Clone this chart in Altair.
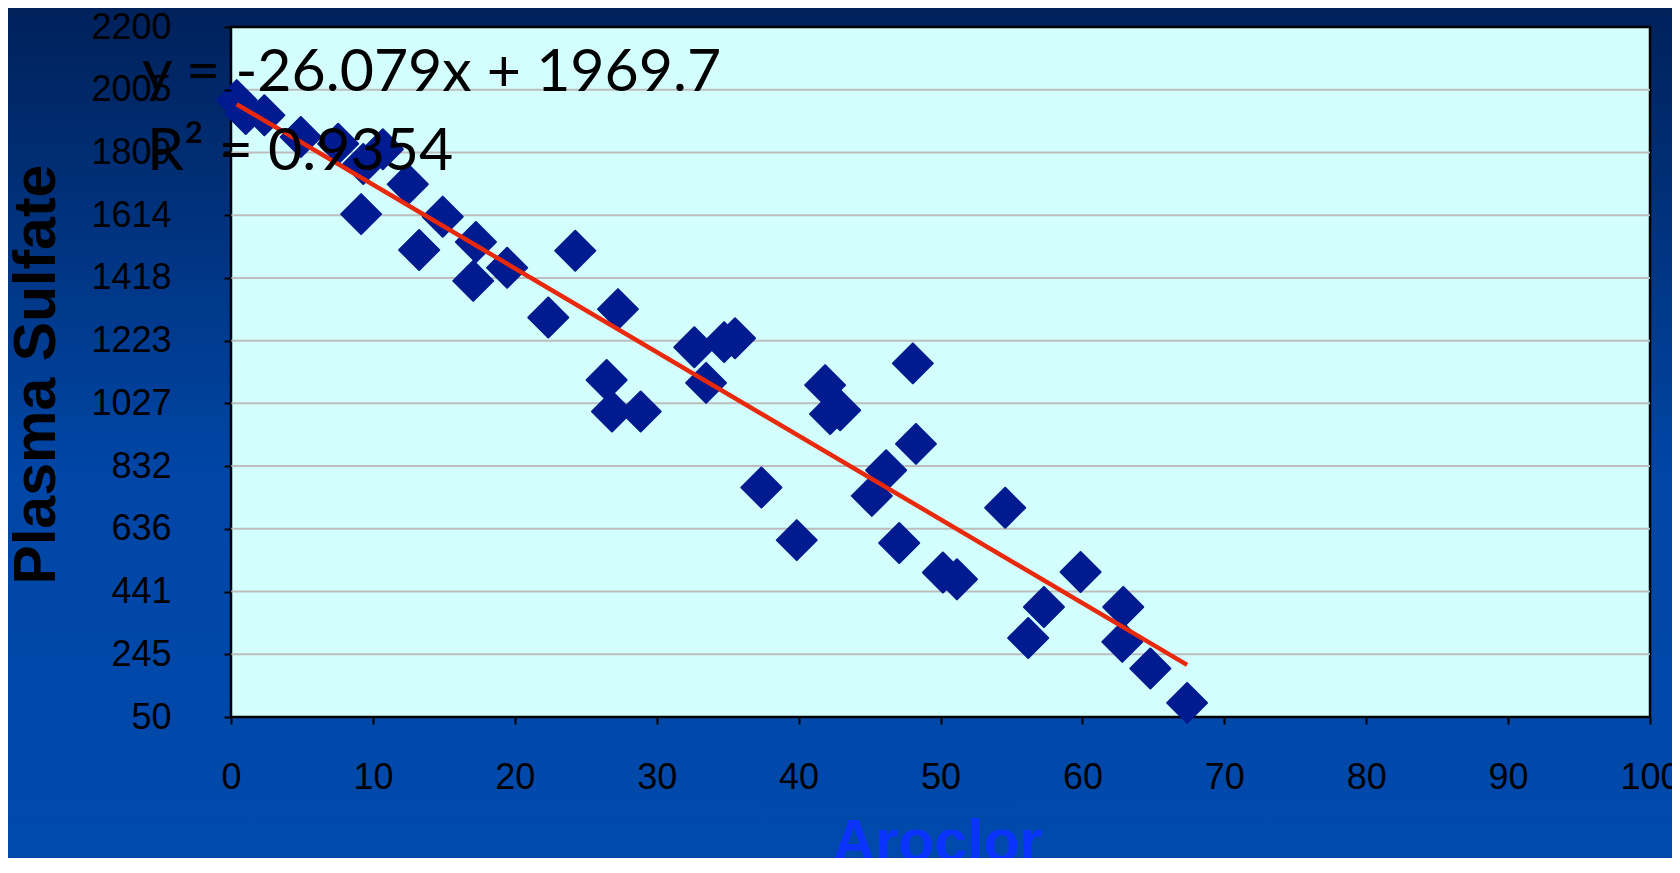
import altair as alt
import pandas as pd

# ---------------- data ----------------
aroclor = [0.40, 1.04, 2.35, 4.92, 7.55, 10.7, 9.32, 12.46, 9.17, 14.92,
           13.26, 17.26, 19.46, 17.07, 24.26, 22.36, 27.27, 26.47, 26.85, 28.87,
           32.65, 34.75, 35.52, 33.48, 37.38, 39.87, 41.87, 42.22, 42.93, 45.16,
           46.17, 47.09, 48.05, 48.27, 50.17, 51.16, 54.56, 56.18, 57.29, 59.87,
           62.88, 62.81, 64.79, 67.38]
sulfate = [1972, 1929, 1925, 1857, 1836, 1819, 1773, 1710, 1617, 1609,
           1505, 1530, 1450, 1409, 1503, 1295, 1321, 1100, 1002, 1002,
           1202, 1218, 1230, 1091, 765, 601, 1084, 994, 1006, 739,
           819, 592, 1152, 901, 500, 479, 702, 296, 393, 502,
           393, 284, 201, 94]
y_ticks = [50, 245.45, 440.91, 636.36, 831.82, 1027.27, 1222.73, 1418.18,
           1613.64, 1809.09, 2004.55, 2200]
x_ticks = [0, 10, 20, 30, 40, 50, 60, 70, 80, 90, 100]
slope = -26.079
intercept = 1969.7
eq_label = "y = -26.079x + 1969.7"
r2_label = "R\u00b2 = 0.9354"
x_title = "Aroclor"
y_title = "Plasma Sulfate"

# ---------------- layout ----------------
W, H = 1419, 690
PAD = {"left": 223, "top": 19, "right": 22, "bottom": 141}

pts = pd.DataFrame({"Aroclor": aroclor, "Sulfate": sulfate})
grid = pd.DataFrame({"Sulfate": y_ticks[1:-1]})
trend = pd.DataFrame({"Aroclor": [min(aroclor), max(aroclor)]})
one = pd.DataFrame({"k": [0]})

xs = alt.Scale(domain=[0, 100], nice=False, zero=False)
ys = alt.Scale(domain=[50, 2200], nice=False, zero=False)

xaxis = alt.Axis(values=x_ticks, grid=False, domain=False, ticks=True,
                 tickColor="black", tickWidth=2, tickSize=7,
                 labelFont="Liberation Sans", labelFontSize=36, labelColor="black",
                 labelPadding=36, labelFlush=False, labelOverlap=False,
                 title=x_title, titleFont="Liberation Sans", titleFontWeight="bold",
                 titleFontSize=59, titleColor="#0A33FF", titleX=706, titleY=143,
                 titleAlign="center", titleBaseline="alphabetic", zindex=1)
yaxis = alt.Axis(values=y_ticks, format=".0f", grid=False, domain=False, ticks=True,
                 tickColor="black", tickWidth=2, tickSize=7,
                 labelFont="Liberation Sans", labelFontSize=36, labelColor="black",
                 labelPadding=53, labelFlush=False, labelOverlap=False,
                 title=y_title, titleFont="Liberation Sans", titleFontWeight="bold",
                 titleFontSize=59, titleColor="black", titleX=-177, titleY=347,
                 titleAngle=270, titleAlign="center", titleBaseline="alphabetic",
                 zindex=1)

bg = alt.Chart(one).mark_rect(
    fill=alt.LinearGradient(
        gradient="linear",
        stops=[alt.GradientStop(color="#00215A", offset=0),
               alt.GradientStop(color="#0046A6", offset=0.55),
               alt.GradientStop(color="#004AAB", offset=1)],
        x1=0, x2=0, y1=0, y2=1)
).encode(x=alt.value(-PAD["left"]), x2=alt.value(W + PAD["right"]),
         y=alt.value(-PAD["top"]), y2=alt.value(H + PAD["bottom"]))

panel = alt.Chart(one).mark_rect(fill="#D4FFFF", stroke="black", strokeWidth=2.5).encode(
    x=alt.value(0), x2=alt.value(W), y=alt.value(0), y2=alt.value(H))

gridlines = alt.Chart(grid).mark_rule(color="#BDBDBD", strokeWidth=2).encode(
    y=alt.Y("Sulfate:Q", scale=ys, axis=yaxis))

points = alt.Chart(pts).mark_point(
    shape="diamond", filled=True, size=1600, color="#001A8F",
    stroke="#001A8F", strokeWidth=2, strokeJoin="round", opacity=1
).encode(x=alt.X("Aroclor:Q", scale=xs, axis=xaxis),
         y=alt.Y("Sulfate:Q", scale=ys, axis=yaxis))

trendline = alt.Chart(trend).transform_calculate(
    Sulfate=f"{slope} * datum.Aroclor + {intercept}"
).mark_line(color="#E8290B", strokeWidth=4.5).encode(
    x=alt.X("Aroclor:Q", scale=xs, axis=xaxis),
    y=alt.Y("Sulfate:Q", scale=ys, axis=yaxis))

eq = alt.Chart(one).mark_text(text=eq_label, font="Lato", fontSize=59, color="black",
                              align="left", baseline="alphabetic").encode(
    x=alt.value(-89), y=alt.value(64))
r2 = alt.Chart(one).mark_text(text=r2_label, font="Lato", fontSize=59, color="black",
                              align="left", baseline="alphabetic").encode(
    x=alt.value(-84), y=alt.value(143))

chart = alt.layer(bg, panel, gridlines, points, trendline, eq, r2).properties(
    width=W, height=H, padding=PAD, autosize=alt.AutoSizeParams(type="none")
).configure_view(stroke=None)

chart.save("out.html", embed_options={"renderer": "svg", "actions": False})
